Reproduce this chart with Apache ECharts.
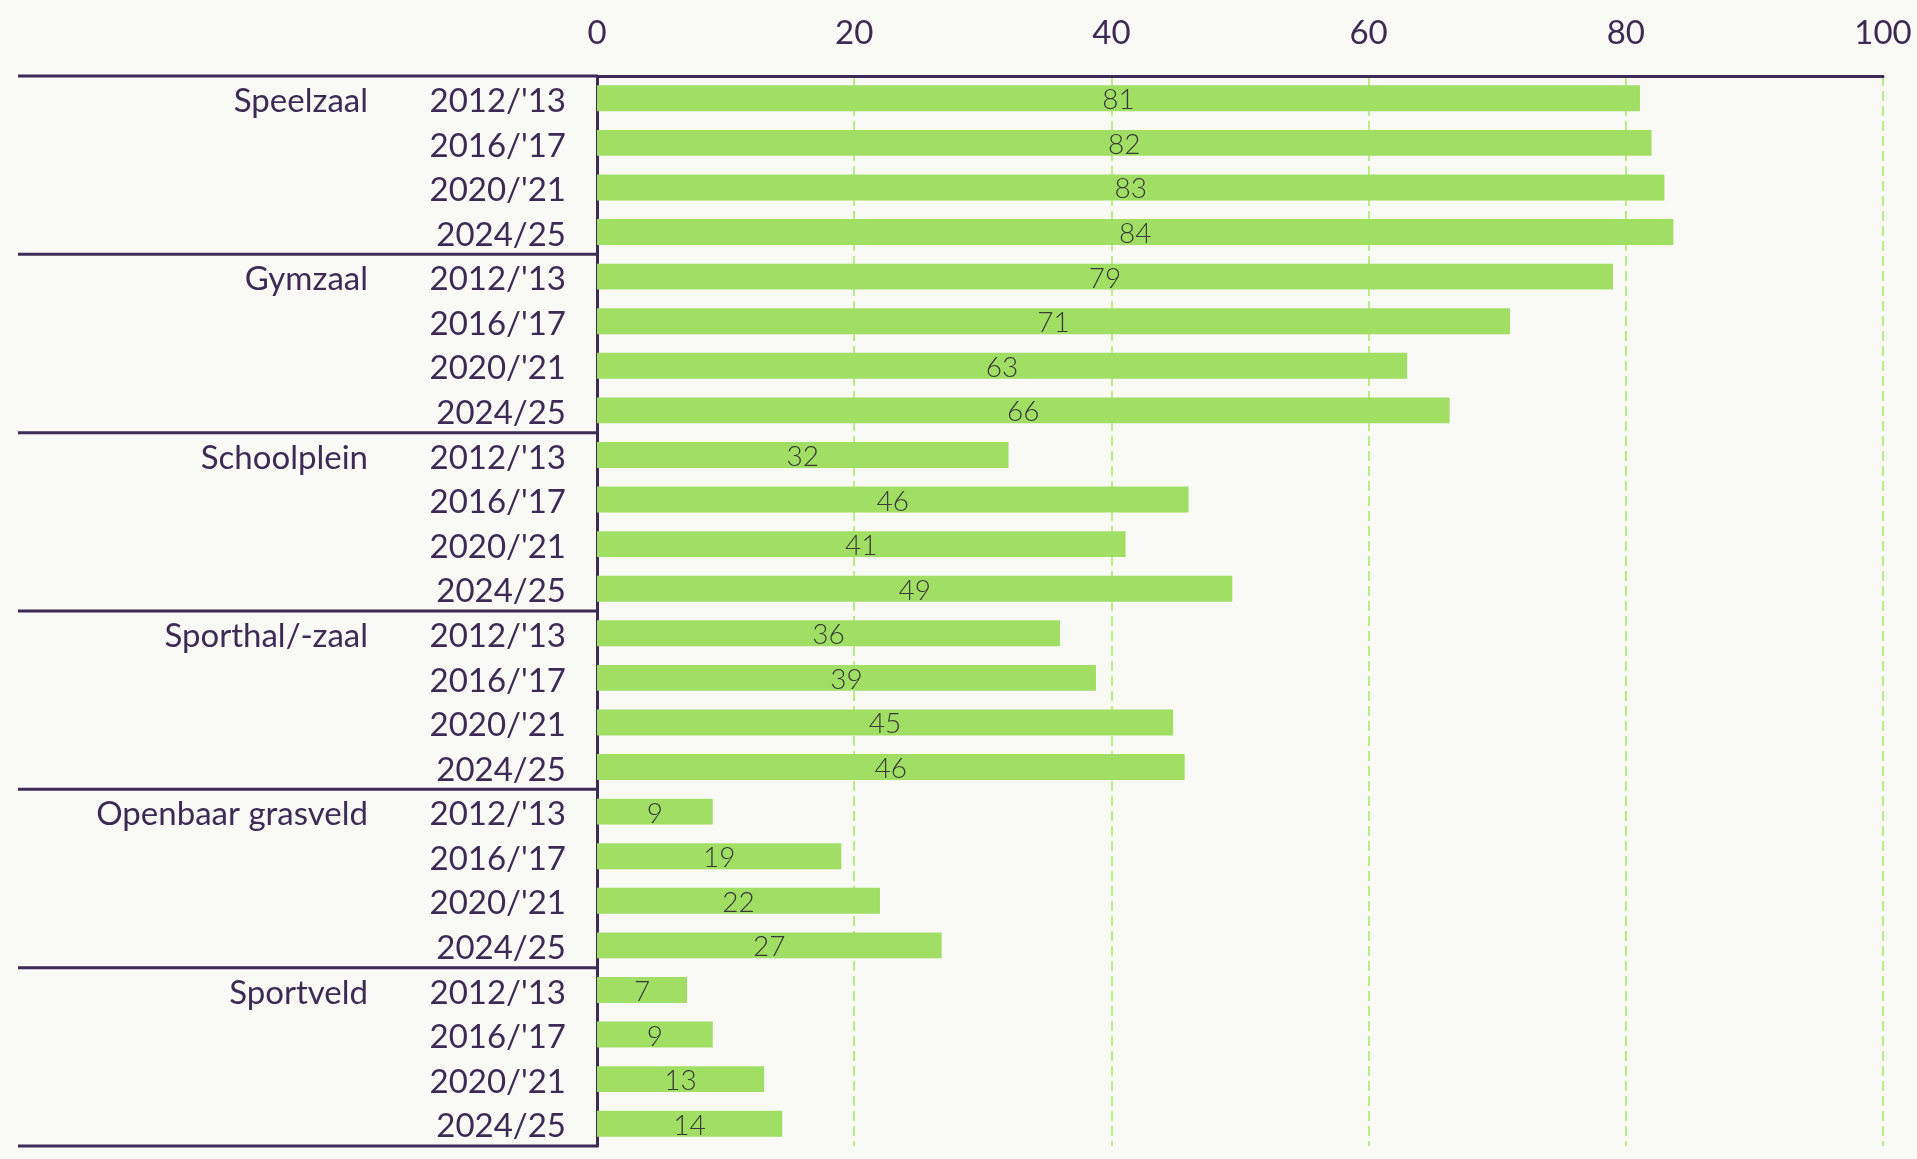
<!DOCTYPE html>
<html>
<head>
<meta charset="utf-8">
<script src="https://cdn.jsdelivr.net/npm/echarts@6/dist/echarts.min.js"></script>
<style>
  html, body { margin: 0; padding: 0; background: #f9f9f5; }
  #chart { width: 1917px; height: 1159px; }
</style>
</head>
<body>
<div id="chart"></div>
<script>
const groups = ['Speelzaal', 'Gymzaal', 'Schoolplein', 'Sporthal/-zaal', 'Openbaar grasveld', 'Sportveld'];
const years = ["2012/'13", "2016/'17", "2020/'21", "2024/25"];
const speelzaal = [81.1, 82.0, 83.0, 83.7];
const gymzaal = [79.0, 71.0, 63.0, 66.3];
const schoolplein = [32.0, 46.0, 41.1, 49.4];
const sporthal = [36.0, 38.8, 44.8, 45.7];
const grasveld = [9.0, 19.0, 22.0, 26.8];
const sportveld = [7.0, 9.0, 13.0, 14.4];
const xTicks = [0, 20, 40, 60, 80, 100];

const purple = '#3d2b56';
const values = [speelzaal, gymzaal, schoolplein, sporthal, grasveld, sportveld].flat();
// één categorie per rij: "groep|jaar"
const cats = [];
groups.forEach(g => years.forEach(y => cats.push(g + '|' + y)));

// labels iets lager in de rij
const labelRich = { t: { color: purple, fontSize: 33, fontFamily: 'Lato', padding: [6, 0, 0, 0] } };

const chart = echarts.init(document.getElementById('chart'));

chart.setOption({
  backgroundColor: '#f9f9f5',
  animation: false,
  textStyle: { fontFamily: 'Lato' },
  grid: { left: 597, right: 34, top: 76, bottom: 13 },
  xAxis: {
    type: 'value',
    position: 'top',
    min: xTicks[0],
    max: xTicks[xTicks.length - 1],
    interval: 20,
    axisLine: { show: true, lineStyle: { color: purple, width: 3 } },
    axisTick: { show: false },
    axisLabel: { color: purple, fontSize: 33, fontFamily: 'Lato', margin: 26 },
    splitLine: { show: true, lineStyle: { color: '#b9ee84', width: 2, type: [10, 5] } }
  },
  yAxis: [{
    type: 'category',
    inverse: true,
    data: cats,
    axisLine: { show: true, lineStyle: { color: purple, width: 3 } },
    axisTick: { show: false },
    axisLabel: {
      interval: 0, color: purple, fontSize: 33, fontFamily: 'Lato', margin: 31,
      rich: labelRich,
      formatter: v => '{t|' + v.split('|')[1] + '}'
    }
  }, {
    type: 'category',
    inverse: true,
    position: 'left',
    offset: 198,
    data: cats,
    axisLine: { show: false },
    axisTick: { show: false },
    axisLabel: {
      interval: 0, color: purple, fontSize: 33, fontFamily: 'Lato', margin: 31,
      rich: labelRich,
      formatter: (v, i) => (i % 4 === 0 ? '{t|' + v.split('|')[0] + '}' : '')
    }
  }],
  series: [{
    type: 'bar',
    data: values,
    barCategoryGap: '42%',
    itemStyle: { color: '#a0de64' },
    label: {
      show: true,
      position: 'inside',
      offset: [0, 2],
      color: '#3a3a3a',
      fontSize: 28,
      fontWeight: 300,
      fontFamily: 'Lato',
      formatter: p => Math.round(p.value)
    }
  }]
});

/* scheidingslijnen tussen de groepen */
function drawSeparators() {
  const c0 = chart.convertToPixel({ yAxisIndex: 0 }, cats[0]);
  const c1 = chart.convertToPixel({ yAxisIndex: 0 }, cats[1]);
  const step = c1 - c0;
  const xAxis0 = chart.convertToPixel({ xAxisIndex: 0 }, 0);
  const lines = [];
  for (let k = 0; k <= groups.length; k++) {
    const y = c0 - step / 2 + k * years.length * step;
    lines.push({
      type: 'line',
      shape: { x1: 18, y1: y, x2: xAxis0, y2: y },
      style: { stroke: purple, lineWidth: 3 },
      z: 10
    });
  }
  chart.setOption({ graphic: lines });
}
drawSeparators();

window.addEventListener('resize', function () {
  chart.resize();
  drawSeparators();
});
</script>
</body>
</html>
